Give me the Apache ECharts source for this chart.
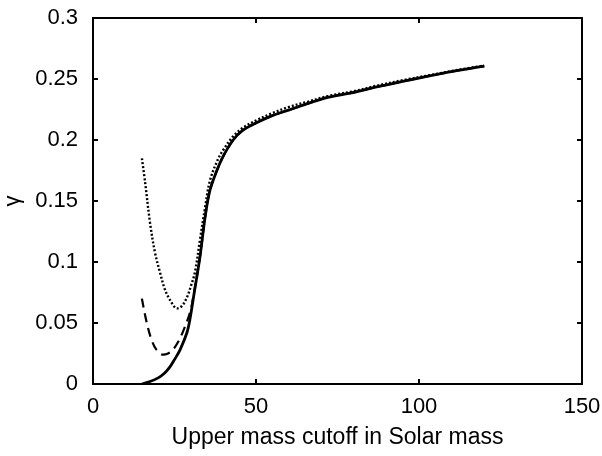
<!DOCTYPE html>
<html>
<head>
<meta charset="utf-8">
<script src="https://cdn.jsdelivr.net/npm/echarts@6/dist/echarts.min.js"></script>
<style>html,body{margin:0;padding:0;background:#fff}#c{width:602px;height:456px}</style>
</head>
<body>
<div id="c"></div>
<script>
var xTicks = [0, 50, 100, 150];
var yTicks = [0, 0.05, 0.1, 0.15, 0.2, 0.25, 0.3];

var massSolid  = [15, 17.5, 20, 22, 23.6, 25, 26.7, 28.8, 29.8, 31, 32.8, 34.4, 35.9, 38, 40, 43, 46, 50, 55, 60, 66, 72, 80, 87, 95, 104, 112, 120];
var gammaSolid = [0, 0.002, 0.005, 0.009, 0.014, 0.02, 0.028, 0.042, 0.054, 0.074, 0.104, 0.137, 0.159, 0.175, 0.187, 0.2, 0.208, 0.214, 0.22, 0.2245, 0.23, 0.235, 0.239, 0.2435, 0.248, 0.253, 0.257, 0.2605];

var massDotted  = [15, 16, 17.5, 19, 20.6, 22, 23.6, 25.8, 27.3, 28.8, 30, 31.3, 32.8, 34.4, 35.9, 38.3, 40, 43, 46, 50, 55, 60, 66, 72, 80, 87, 95, 104, 112, 120];
var gammaDotted = [0.185, 0.165, 0.132, 0.108, 0.091, 0.078, 0.069, 0.062, 0.064, 0.071, 0.08, 0.092, 0.118, 0.145, 0.167, 0.184, 0.192, 0.203, 0.21, 0.216, 0.222, 0.227, 0.2315, 0.236, 0.24, 0.2445, 0.249, 0.2535, 0.2575, 0.261];

var massDashed  = [15, 16.5, 18, 19.5, 21.5, 23, 24.5, 26, 27.6, 29.8, 31, 32.8, 34.4, 35.9, 38, 40, 43, 46, 50, 55, 60, 66, 72, 80, 87, 95, 104, 112, 120];
var gammaDashed = [0.07, 0.05, 0.036, 0.028, 0.024, 0.025, 0.028, 0.034, 0.043, 0.059, 0.075, 0.104, 0.137, 0.159, 0.175, 0.187, 0.2, 0.208, 0.214, 0.22, 0.2245, 0.23, 0.235, 0.239, 0.2435, 0.248, 0.253, 0.257, 0.2605];

function pairs(xs, ys) { return xs.map(function (x, i) { return [x, ys[i]]; }); }

var font = 'Liberation Sans, Arial, sans-serif';
var axisCommon = {
  axisLine: { show: true, onZero: false, lineStyle: { color: '#000', width: 2 } },
  axisTick: { show: true, inside: true, length: 5, lineStyle: { color: '#000', width: 2 } },
  splitLine: { show: false }
};

var chart = echarts.init(document.getElementById('c'), null, { renderer: 'canvas' });
chart.setOption({
  animation: false,
  backgroundColor: '#fff',
  grid: { left: 93, right: 20, top: 18, bottom: 72, containLabel: false, outerBoundsMode: 'none' },
  xAxis: [
    Object.assign({
      type: 'value', min: xTicks[0], max: xTicks[xTicks.length - 1], interval: 50,
      name: 'Upper mass cutoff in Solar mass', nameLocation: 'middle', nameGap: 42,
      nameTextStyle: { fontFamily: font, fontSize: 23, color: '#000' },
      axisLabel: { fontFamily: font, fontSize: 22, color: '#000', margin: 12 }
    }, axisCommon),
    Object.assign({
      type: 'value', position: 'top', min: 0, max: 150, interval: 50,
      axisLabel: { show: false }
    }, axisCommon)
  ],
  yAxis: [
    Object.assign({
      type: 'value', min: yTicks[0], max: yTicks[yTicks.length - 1], interval: 0.05,
      name: 'γ', nameLocation: 'middle', nameGap: 66, nameRotate: 90,
      nameTextStyle: { fontFamily: font, fontSize: 22, color: '#000' },
      axisLabel: { fontFamily: font, fontSize: 22, color: '#000', margin: 15 }
    }, axisCommon),
    Object.assign({
      type: 'value', position: 'right', min: 0, max: 0.3, interval: 0.05,
      axisLabel: { show: false }
    }, axisCommon)
  ],
  series: [
    { type: 'line', data: pairs(massSolid, gammaSolid), smooth: 0.35, showSymbol: false,
      lineStyle: { color: '#000', width: 2.8, type: 'solid' }, z: 3 },
    { type: 'line', data: pairs(massDashed, gammaDashed), smooth: 0.35, showSymbol: false,
      lineStyle: { color: '#000', width: 2.2, type: [9, 6] }, z: 2 },
    { type: 'line', data: pairs(massDotted, gammaDotted), smooth: 0.35, showSymbol: false,
      lineStyle: { color: '#000', width: 2.4, type: [2, 2] }, z: 2 }
  ]
});
</script>
</body>
</html>
